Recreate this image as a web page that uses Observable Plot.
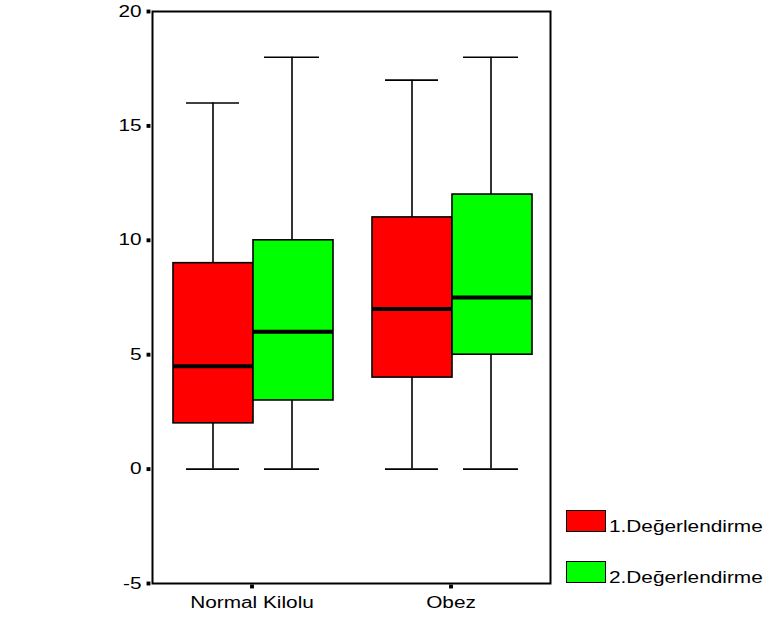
<!DOCTYPE html>
<html>
<head>
<meta charset="utf-8">
<script src="https://cdn.jsdelivr.net/npm/d3@7"></script>
<script src="https://cdn.jsdelivr.net/npm/@observablehq/plot@0.6"></script>
<style>
  html, body { margin: 0; padding: 0; background: #fff; }
  #wrap { position: relative; width: 766px; height: 618px; font-family: "Liberation Sans", Arial, sans-serif; }
  .leg { position: absolute; left: 566px; height: 0; }
  .leg .sw { position: absolute; left: 0; width: 38px; height: 20px; border: 1.5px solid #000; }
  .leg .lbl { position: absolute; left: 43px; font-size: 16px; line-height: 16px; white-space: nowrap;
              transform: scaleX(1.3); transform-origin: left center; color: #000; }
</style>
</head>
<body>
<div id="wrap"></div>
<script>
// ---- data ----
const categories = ["Normal Kilolu", "Obez"];
const seriesNames = ["1.Değerlendirme", "2.Değerlendirme"];
const seriesColors = ["#ff0000", "#00ff00"];
const yTicks = [-5, 0, 5, 10, 15, 20];

// series 1: 1.Değerlendirme
const s1Low = [0, 0];
const s1Q1 = [2, 4];
const s1Median = [4.5, 7];
const s1Q3 = [9, 11];
const s1High = [16, 17];

// series 2: 2.Değerlendirme
const s2Low = [0, 0];
const s2Q1 = [3, 5];
const s2Median = [6, 7.5];
const s2Q3 = [10, 12];
const s2High = [18, 18];

const stats = [
  {low: s1Low, q1: s1Q1, med: s1Median, q3: s1Q3, high: s1High},
  {low: s2Low, q1: s2Q1, med: s2Median, q3: s2Q3, high: s2High}
];

const rows = [];
stats.forEach((s, si) => {
  categories.forEach((c, ci) => {
    rows.push({category: c, series: seriesNames[si], color: seriesColors[si],
      low: s.low[ci], q1: s.q1[ci], med: s.med[ci], q3: s.q3[ci], high: s.high[ci]});
  });
});

// per-series placement styles within each category band
const layout = [
  {boxL: 21, boxR: 98, capL: 34, capR: 112, dx: -39},
  {boxL: 101, boxR: 18, capL: 112, capR: 32, dx: 40}
];

const marks = [];
seriesNames.forEach((name, si) => {
  const d = rows.filter(r => r.series === name);
  const L = layout[si];
  marks.push(
    Plot.ruleX(d, {x: "category", y1: "low", y2: "high", dx: L.dx, stroke: "#000", strokeWidth: 1.6}),
    Plot.tickY(d, {x: "category", y: "low", insetLeft: L.capL, insetRight: L.capR, stroke: "#000", strokeWidth: 1.6}),
    Plot.tickY(d, {x: "category", y: "high", insetLeft: L.capL, insetRight: L.capR, stroke: "#000", strokeWidth: 1.6}),
    Plot.barY(d, {x: "category", y1: "q1", y2: "q3", fill: "color", stroke: "#000", strokeWidth: 1.6,
      insetLeft: L.boxL, insetRight: L.boxR}),
    Plot.tickY(d, {x: "category", y: "med", insetLeft: L.boxL, insetRight: L.boxR, stroke: "#000", strokeWidth: 4})
  );
});

const chart = Plot.plot({
  width: 766,
  height: 618,
  marginLeft: 152,
  marginRight: 216,
  marginTop: 11,
  marginBottom: 35,
  style: {fontFamily: "'Liberation Sans', Arial, sans-serif", fontSize: "16px", color: "#000", background: "#fff"},
  x: {domain: categories, padding: 0, label: null},
  y: {domain: [-5, 20], label: null},
  color: {type: "identity"},
  marks: [
    ...marks,
    Plot.frame({stroke: "#000", strokeWidth: 2}),
    // square tick marks (SPSS style)
    Plot.dot(yTicks, {y: d => d, frameAnchor: "left", dx: -4, r: 2.2, symbol: "square", fill: "#000", stroke: null}),
    Plot.dot(categories, {x: d => d, frameAnchor: "bottom", dy: 3, r: 2.2, symbol: "square", fill: "#000", stroke: null}),
    Plot.axisY({ticks: yTicks, tickSize: 0, tickPadding: 11, fontSize: 16, label: null, tickFormat: d => String(d)}),
    Plot.axisX({tickSize: 0, tickPadding: 13, fontSize: 16, label: null})
  ]
});

document.getElementById("wrap").appendChild(chart);

// horizontally widen the axis text to match the stretched look of the reference
chart.querySelectorAll("text").forEach(t => {
  const w = t.getComputedTextLength();
  if (w > 0) {
    t.setAttribute("textLength", (w * 1.3).toFixed(1));
    t.setAttribute("lengthAdjust", "spacingAndGlyphs");
  }
});

// legend (right side)
const wrap = document.getElementById("wrap");
const legTops = [510, 561];
seriesNames.forEach((name, i) => {
  const g = document.createElement("div");
  g.className = "leg";
  g.style.top = legTops[i] + "px";
  const sw = document.createElement("div");
  sw.className = "sw";
  sw.style.background = seriesColors[i];
  const lb = document.createElement("div");
  lb.className = "lbl";
  lb.style.top = "9px";
  lb.textContent = name;
  g.appendChild(sw);
  g.appendChild(lb);
  wrap.appendChild(g);
});
</script>
</body>
</html>
